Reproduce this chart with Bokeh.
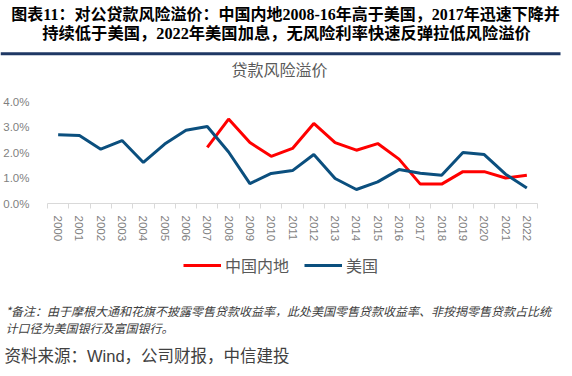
from bokeh.plotting import figure
from bokeh.layouts import column
from bokeh.models import Range1d, FixedTicker, PrintfTickFormatter, Legend, LegendItem
from bokeh.core.properties import value
from bokeh.embed import file_html
from bokeh.resources import INLINE

# ---- data ----
years = list(range(2000, 2023))
tick_labels = [str(y) for y in years]
us_premium = [2.70, 2.67, 2.13, 2.47, 1.61, 2.33, 2.87, 3.02, 2.02, 0.78, 1.18, 1.29,
              1.92, 0.98, 0.55, 0.85, 1.33, 1.19, 1.11, 2.00, 1.92, 1.15, 0.61]
cn_years = list(range(2007, 2023))
cn_premium = [2.20, 3.31, 2.39, 1.85, 2.16, 3.14, 2.39, 2.09, 2.35, 1.74, 0.76, 0.76,
              1.25, 1.25, 1.00, 1.11]
y_ticks = [0, 1, 2, 3, 4]
series_names = ["中国内地", "美国"]
series_colors = ["#ff0000", "#0b4f7e"]

title1 = "图表11：对公贷款风险溢价：中国内地2008-16年高于美国，2017年迅速下降并"
title2 = "持续低于美国，2022年美国加息，无风险利率快速反弹拉低风险溢价"
chart_title = "贷款风险溢价"
note1 = "*备注：由于摩根大通和花旗不披露零售贷款收益率，此处美国零售贷款收益率、非按揭零售贷款占比统"
note2 = "计口径为美国银行及富国银行。"
source = "资料来源：Wind，公司财报，中信建投"

W = 572
CJK = "Noto Sans CJK SC"
SERIF = "Liberation Serif, Noto Sans CJK SC"
SANS = "Liberation Sans, Noto Sans CJK SC"
NAN = float("nan")


def blank(h):
    f = figure(width=W, height=h, x_range=Range1d(0, W), y_range=Range1d(h, 0),
               x_axis_type=None, y_axis_type=None, output_backend="svg",
               toolbar_location=None, min_border=0, frame_align=False)
    f.xgrid.visible = False
    f.ygrid.visible = False
    f.outline_line_color = None
    return f

# ---- header ----
hdr = blank(90)
hdr.text(x=[285], y=[14], text=[title1], text_align="center", text_baseline="middle",
         text_font=value(SERIF), text_font_size="16px", text_font_style="bold", text_color="#000000")
hdr.text(x=[286], y=[33], text=[title2], text_align="center", text_baseline="middle",
         text_font=value(SERIF), text_font_size="16.3px", text_font_style="bold", text_color="#000000")
hdr.line(x=[0, 560], y=[53.3, 53.3], line_width=3, line_color="#1f3864")
hdr.text(x=[279], y=[68], text=[chart_title], text_align="center", text_baseline="middle",
         text_font=value(CJK), text_font_size="16px", text_color="#595959")

# ---- main chart ----
p = figure(width=W, height=155, x_range=Range1d(1999.5, 2022.5), y_range=Range1d(0, 4),
           output_backend="svg", toolbar_location=None, frame_align=False,
           min_border_left=47, min_border_right=35, min_border_top=11, min_border_bottom=42)
p.xgrid.visible = False
p.ygrid.visible = False
p.outline_line_color = None

p.line(cn_years, cn_premium, line_color=series_colors[0], line_width=3)
p.line(years, us_premium, line_color=series_colors[1], line_width=3)

xa = p.xaxis[0]
xa.ticker = FixedTicker(ticks=years, minor_ticks=[y - 0.5 for y in years] + [2022.5])
xa.major_label_overrides = {y: s for y, s in zip(years, tick_labels)}
xa.major_label_orientation = "vertical"
xa.major_tick_line_color = None
xa.major_tick_out = 0
xa.major_tick_in = 0
xa.minor_tick_line_color = "#d9d9d9"
xa.minor_tick_out = 5
xa.minor_tick_in = 0
xa.axis_line_color = "#d9d9d9"
xa.major_label_text_font = SANS
xa.major_label_text_font_size = "11.5px"
xa.major_label_text_color = "#7f7f7f"
xa.major_label_standoff = 7

ya = p.yaxis[0]
ya.ticker = FixedTicker(ticks=y_ticks)
ya.formatter = PrintfTickFormatter(format="%.1f%%")
ya.axis_line_color = None
ya.major_tick_line_color = None
ya.minor_tick_line_color = None
ya.major_label_text_font = SANS
ya.major_label_text_font_size = "11.5px"
ya.major_label_text_color = "#7f7f7f"
ya.major_label_standoff = 12

# ---- legend strip (key renderers carry no visible data) ----
lg = blank(45)
key_cn = lg.line([NAN], [NAN], line_color=series_colors[0], line_width=3)
key_us = lg.line([NAN], [NAN], line_color=series_colors[1], line_width=3)
legend = Legend(items=[LegendItem(label=series_names[0], renderers=[key_cn]),
                       LegendItem(label=series_names[1], renderers=[key_us])],
                orientation="horizontal", location=(183, 13),
                glyph_width=38, glyph_height=16, label_height=16, label_standoff=4,
                spacing=15, padding=0, margin=0, border_line_color=None,
                background_fill_alpha=0, label_text_font=CJK,
                label_text_font_size="16px", label_text_color="#595959")
lg.add_layout(legend, "center")

# ---- footer ----
ftr = blank(86)
ftr.text(x=[5], y=[20], text=[note1], text_align="left", text_baseline="middle",
         text_font=value(CJK), text_font_size="12px", text_font_style="italic", text_color="#404040")
ftr.text(x=[5], y=[37], text=[note2], text_align="left", text_baseline="middle",
         text_font=value(CJK), text_font_size="12px", text_font_style="italic", text_color="#404040")
ftr.text(x=[4], y=[65], text=[source], text_align="left", text_baseline="middle",
         text_font=value(SANS), text_font_size="16.5px", text_color="#404040")

layout = column(hdr, p, lg, ftr, spacing=0)
open("out.html", "w").write(file_html(layout, INLINE))
